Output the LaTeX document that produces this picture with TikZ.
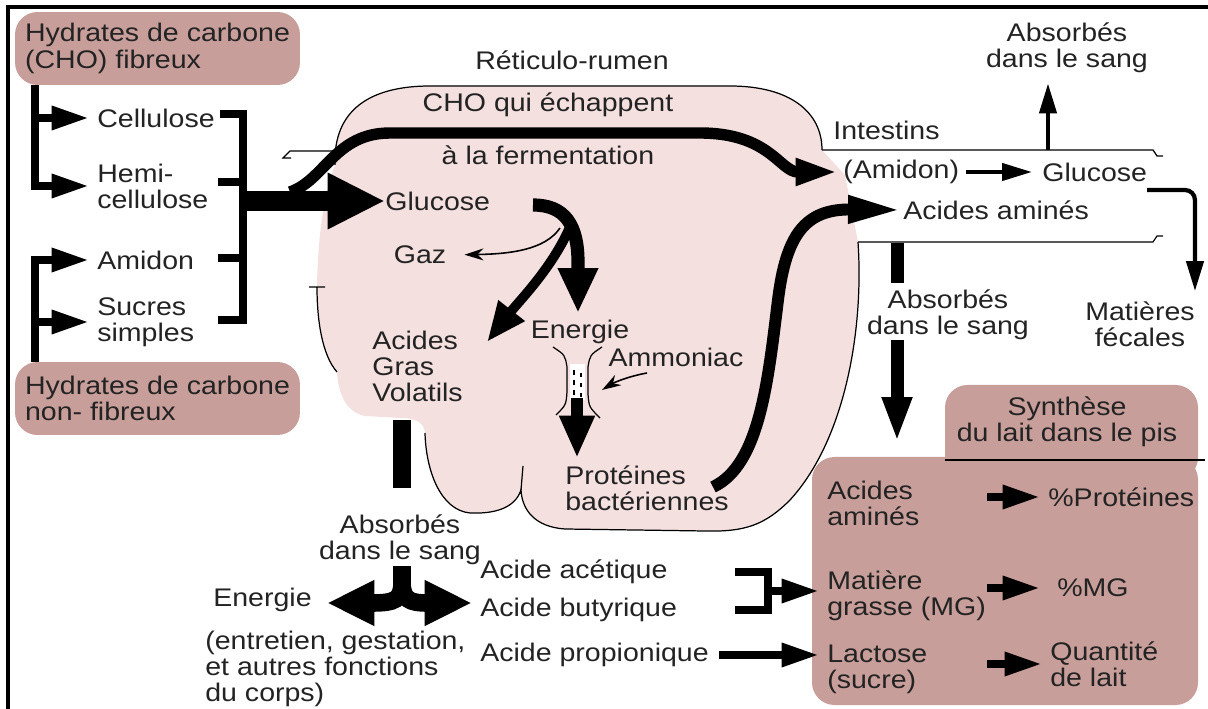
\documentclass[tikz,border=0pt]{standalone}
\usepackage{fontspec}
\setmainfont{Liberation Sans}[FakeStretch=1.12]
\usetikzlibrary{arrows.meta,positioning,calc}
\definecolor{boxrose}{RGB}{200,158,154}
\definecolor{rumenpink}{RGB}{245,224,224}
\definecolor{inkgray}{RGB}{35,35,35}
\tikzset{
  txt/.style={inner sep=0pt, font=\fontsize{14.5}{14.8}\selectfont, text=inkgray, align=left},
  txtc/.style={txt, align=center},
  rosebox/.style={rectangle, rounded corners=0.45cm, fill=boxrose, inner sep=0pt,
                  minimum width=5.7cm, minimum height=1.46cm,
                  font=\fontsize{14.5}{15.2}\selectfont, text=inkgray, align=left},
  bar/.style={line width=4.8pt, line join=miter},
  feed/.style={line width=4.5pt, line join=miter, -{Triangle[length=0.75cm,width=0.45cm]}, shorten >=0.16cm},
  bigfeed/.style={line width=11pt, -{Triangle[length=1.15cm,width=1.05cm]}},
  slim/.style={line width=2.4pt, -{Triangle[length=0.6cm,width=0.34cm]}, shorten >=0.2cm},
  hair/.style={line width=0.9pt, -{Stealth[length=0.38cm,width=0.24cm]}},
  escape/.style={line width=6.5pt, -{Triangle[length=0.85cm,width=0.5cm]}, shorten >=0.1cm},
  glucbend/.style={line width=7.5pt, -{Triangle[length=0.9cm,width=0.75cm]}},
  fork/.style={line width=10pt, -{Triangle[length=0.95cm,width=0.85cm]}},
  wall/.style={line width=0.7pt},
}
\begin{document}
\begin{tikzpicture}[x=0.02cm, y=-0.02cm]
\useasboundingbox (0,0) rectangle (1208,709);
\draw[line width=1.8pt] (8,709) -- (8,7) -- (1208,7);

\fill[rumenpink] (335,165) .. controls (333,110) and (370,86) .. (430,86) -- (730,86)
  .. controls (790,86) and (822,112) .. (822,150) -- (845,175) -- (858,242)
  .. controls (864,330) and (845,440) .. (790,500) .. controls (765,525) and (745,532) .. (705,531)
  -- (565,529) .. controls (535,527) and (522,510) .. (521,490)
  .. controls (515,508) and (495,514) .. (470,513) .. controls (440,510) and (426,470) .. (425,433)
  .. controls (424,422) and (415,418) .. (400,418) -- (365,416)
  .. controls (345,412) and (338,392) .. (337,372) .. controls (322,355) and (317,320) .. (317,287)
  .. controls (318,230) and (325,190) .. (335,165) -- cycle;
\draw[wall] (335,165) .. controls (333,110) and (370,86) .. (430,86) -- (730,86)
  .. controls (790,86) and (822,112) .. (822,150);
\draw[wall] (858,242) .. controls (864,330) and (845,440) .. (790,500)
  .. controls (765,525) and (745,532) .. (705,531) -- (565,529)
  .. controls (535,527) and (522,510) .. (521,490)
  .. controls (515,508) and (495,514) .. (470,513) .. controls (440,510) and (426,470) .. (425,433);
\draw[wall] (309,287) -- (325,287) (317,287) .. controls (317,320) and (322,355) .. (337,372);
\draw[wall] (523,466) -- (521,490);
\draw[wall] (335,151) -- (290,151) -- (283,158) -- (291,158);
\draw[wall] (822,150) -- (1153,150) -- (1157,156) -- (1163,156);
\draw[wall] (858,242) -- (1153,242) -- (1157,236) -- (1163,236);

\node[rosebox] (fib) at (157.5,48.5) {Hydrates de carbone\\(CHO) fibreux};
\node[rosebox] (nfib) at (157.5,398.5) {Hydrates de carbone\\non- fibreux};
\node[txt, anchor=west] (cell) at (97,118) {Cellulose};
\node[txt, anchor=west] (hemi) at (97,186) {Hemi-\\cellulose};
\node[txt, anchor=west] (amid) at (97,260) {Amidon};
\node[txt, anchor=west] (sucr) at (97,322) {Sucres\\simples};

\coordinate (fibx) at (35,85);
\coordinate (nfibx) at (35,362);
\draw[feed] (fibx) |- (hemi.west);
\draw[feed] (fibx |- cell.west) -- (cell.west);
\draw[feed] (nfibx) |- (amid.west);
\draw[feed] (nfibx |- sucr.west) -- (sucr.west);
\draw[bar] (220,114) -| (243,320) -- (218,320);
\foreach \y in {182,258}
  \draw[bar] (218,\y) -- (243,\y);

\node[txt] (retic) at (572,60) {Réticulo-rumen};
\node[txt] (cho) at (548,105) {CHO qui échappent};
\node[txt] (ferm) at (548,155) {à la fermentation};
\node[txt, anchor=west] (gluc) at (385,201) {Glucose};
\node[txt] (gaz) at (420,255) {Gaz};
\node[txt, anchor=west] (agv) at (372,366) {Acides\\Gras\\Volatils};
\node[txt] (ener) at (580,332) {Energie};
\node[txt] (ammo) at (676,357) {Ammoniac};
\node[txt, anchor=west] (prot) at (565,488) {Protéines\\bactériennes};

\coordinate (jn) at (243,201);
\draw[bigfeed] (jn) -- (gluc.west);

\node[txt, anchor=west] (intest) at (833,130) {Intestins};
\node[txt, anchor=west] (amid2) at (843,172) {(Amidon)};
\node[txt, anchor=west] (glu2) at (1042,172) {Glucose};
\node[txt, anchor=west] (aa) at (903,210) {Acides aminés};
\node[txtc] (abs1) at (1067,48) {Absorbés\\dans le sang};
\node[txtc] (fec) at (1140,324) {Matières\\fécales};
\node[txtc] (abs2) at (948,315) {Absorbés\\dans le sang};

\draw[escape] (290,192) .. controls (325,180) and (335,133) .. (390,133) -- (700,133)
  .. controls (770,133) and (780,172) .. (amid2.west);

\coordinate (glout) at (533,205);
\coordinate (glsplit) at (572,222);
\draw[glucbend] (glout) .. controls (565,205) and (578,225) .. (578,262) -- (578,313);
\draw[line width=5.5pt, -{Triangle[length=0.8cm,width=0.62cm]}] (glsplit) .. controls (555,265) and (520,300) .. (487,342);
\draw[hair, shorten >=0.36cm] (560,228) .. controls (545,250) and (510,254) .. (gaz.east);

\draw[wall] (553,347) .. controls (565,355) .. (567,367) -- (567,392) .. controls (566,405) .. (556,415);
\draw[wall] (602,347) .. controls (590,355) .. (588,367) -- (588,394) .. controls (589,407) .. (600,418);
\fill[white] (570,364) rectangle (585,400);
\foreach \y in {370,380,390}
  \draw[line width=1.2pt] (574,\y) -- (574,\y+5) (581,\y+3) -- (581,\y+7);
\coordinate (hg) at (577,398);
\draw[line width=7pt, -{Triangle[length=0.85cm,width=0.66cm]}] (hg) -- (577,458);
\coordinate (ammoin) at (647,373);
\draw[hair] (ammoin) .. controls (630,376) and (615,382) .. (602,390);

\coordinate (protout) at (713,487);
\draw[line width=6.8pt, -{Triangle[length=1.1cm,width=0.5cm]}] (protout) .. controls (760,465) and (768,380) .. (778,300)
  .. controls (786,235) and (805,209) .. (aa.west);

\draw[slim, shorten <=0.14cm] (amid2.east) -- (glu2.west);
\coordinate (upft) at (1048,150);
\draw[slim] (upft) -- (upft |- abs1.south);
\coordinate (fecft) at (1147,190);
\draw[slim, rounded corners=0.2cm] (fecft) -| ([xshift=1.1cm]fec.north);

\coordinate (absft) at (897,243);
\draw[line width=7.4pt] (absft) -- (897,283);
\draw[line width=7.4pt, -{Triangle[length=0.9cm,width=0.55cm]}] (897,340) -- (897,442);

\fill[boxrose, rounded corners=0.45cm] (945,385) rectangle (1198,480);
\fill[boxrose, rounded corners=0.45cm] (812,457) rectangle (1198,705);
\draw[line width=1pt] (945,460) -- (1205,460);
\node[txtc] (synth) at (1067,422) {Synthèse\\du lait dans le pis};
\node[txt, anchor=west] (aa2) at (827,503) {Acides\\aminés};
\node[txt, anchor=west] (pctp) at (1048,497) {\%Protéines};
\node[txt, anchor=west] (mg) at (827,596) {Matière\\grasse (MG)};
\node[txt, anchor=west] (pctmg) at (1057,588) {\%MG};
\node[txt, anchor=west] (lact) at (827,669) {Lactose\\(sucre)};
\node[txt, anchor=west] (qte) at (1050,664) {Quantité\\de lait};
\draw[feed] ([xshift=-1.22cm]pctp.west) -- (pctp.west);
\draw[feed] ([xshift=-1.4cm]pctmg.west) -- ([xshift=-0.18cm]pctmg.west);
\draw[feed] ([xshift=-1.26cm]qte.west) -- (qte.west);

\node[txtc] (abs3) at (400,540) {Absorbés\\dans le sang};
\node[txt, anchor=west] (ener2) at (213,600) {Energie};
\node[txt, anchor=north west] (maint) at (205,631) {(entretien, gestation,\\et autres fonctions\\du corps)};
\node[txt, anchor=west] (acet) at (480,572) {Acide acétique};
\node[txt, anchor=west] (buty) at (480,610) {Acide butyrique};
\node[txt, anchor=west] (prop) at (480,655) {Acide propionique};

\coordinate (agvbar) at (402,420);
\draw[line width=10pt] (agvbar) -- (402,488);
\coordinate (forktop) at (402,566);
\coordinate (forkmid) at (402,582);
\draw[line width=10pt] (forktop) -- (forkmid);
\draw[fork] (forkmid) .. controls (402,600) and (395,603) .. (327,603);
\draw[fork] (forkmid) .. controls (402,600) and (410,603) .. (472,603);

\draw[bar] (735,572) -| (768,610) -- (735,610);
\coordinate (brkm) at (768,591);
\draw[feed] (brkm) -- (brkm -| mg.west);
\draw[feed] ([xshift=0.2cm]prop.east) -- (prop.east -| lact.west);
\end{tikzpicture}
\end{document}
